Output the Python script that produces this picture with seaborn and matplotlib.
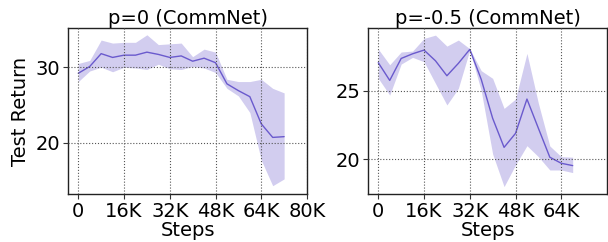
import numpy as np
import pandas as pd
import matplotlib
matplotlib.use("Agg")
import matplotlib.pyplot as plt
import seaborn as sns

# ---- data ----
steps_a = [0, 4000, 8000, 12000, 16000, 20000, 24000, 28000, 32000, 36000,
           40000, 44000, 48000, 52000, 56000, 60000, 64000, 68000, 72000]
mean_a = [29.2, 30.1, 31.8, 31.3, 31.6, 31.6, 32.0, 31.7, 31.3, 31.5,
          30.8, 31.2, 30.6, 27.8, 26.9, 26.1, 22.5, 20.7, 20.8]
upper_a = [30.5, 30.9, 33.6, 33.2, 33.3, 33.3, 34.3, 33.0, 33.1, 33.2,
           31.4, 32.4, 32.0, 28.4, 28.1, 28.1, 28.4, 27.2, 26.6]
lower_a = [28.1, 29.5, 30.0, 29.4, 30.0, 29.9, 29.7, 30.4, 29.8, 29.7,
           30.1, 29.9, 29.3, 27.2, 26.2, 24.0, 17.7, 14.3, 15.2]

steps_b = [0, 4000, 8000, 12000, 16000, 20000, 24000, 28000, 32000, 36000,
           40000, 44000, 48000, 52000, 56000, 60000, 64000, 68000]
mean_b = [27.04, 25.75, 27.35, 27.69, 27.96, 27.18, 26.09, 26.99, 28.01, 25.83,
          22.99, 20.87, 21.89, 24.39, 22.26, 20.15, 19.71, 19.54]
upper_b = [28.03, 26.89, 27.82, 27.89, 28.81, 29.05, 28.25, 28.69, 28.06, 26.46,
           25.90, 23.71, 24.39, 27.72, 24.08, 20.97, 20.19, 20.15]
lower_b = [25.90, 24.68, 26.94, 27.43, 27.11, 25.53, 23.96, 25.17, 27.96, 25.00,
           20.39, 18.01, 19.59, 20.99, 20.19, 19.22, 19.22, 19.03]

titles = ["p=0 (CommNet)", "p=-0.5 (CommNet)"]
xticks_a = [0, 16000, 32000, 48000, 64000, 80000]
xticklabels_a = ["0", "16K", "32K", "48K", "64K", "80K"]
xticks_b = [0, 16000, 32000, 48000, 64000]
xticklabels_b = ["0", "16K", "32K", "48K", "64K"]
yticks_a = [20, 30]
yticks_b = [20, 25]

# ---- plot ----
sns.set_style("white")
plt.rcParams['font.family'] = ['DejaVu Sans']
plt.rcParams['text.color'] = 'black'
plt.rcParams['axes.labelcolor'] = 'black'
plt.rcParams['xtick.color'] = 'black'
plt.rcParams['ytick.color'] = 'black'

FS = 14
line_color = "#6a5acd"
fig = plt.figure(figsize=(6.08, 2.42), dpi=100)
ax1 = fig.add_axes([68/608, 1-194/242, 239/608, 166/242])
ax2 = fig.add_axes([368/608, 1-194/242, 239/608, 166/242])

panels = [
    (ax1, steps_a, mean_a, lower_a, upper_a, titles[0], xticks_a, xticklabels_a, yticks_a, (13.2, 35.2)),
    (ax2, steps_b, mean_b, lower_b, upper_b, titles[1], xticks_b, xticklabels_b, yticks_b, (17.47, 29.57)),
]

for ax, s, m, lo, hi, title, xt, xtl, yt, ylim in panels:
    df = pd.DataFrame({"Steps": s, "Return": m})
    ax.fill_between(s, lo, hi, color=line_color, alpha=0.3, linewidth=0)
    sns.lineplot(data=df, x="Steps", y="Return", ax=ax, color=line_color, linewidth=1.0)
    ax.set_xlim(-3600, 80000)
    ax.set_ylim(*ylim)
    ax.set_xticks(xt)
    ax.set_xticklabels(xtl)
    ax.set_yticks(yt)
    ax.grid(True, linestyle=":", color="#555555", linewidth=0.8)
    ax.set_axisbelow(False)
    ax.tick_params(axis="both", labelsize=FS, direction="out", length=3.5,
                   width=0.8, color="#333333", labelcolor="black",
                   bottom=True, left=True, pad=2)
    for sp in ax.spines.values():
        sp.set_color("#222222")
        sp.set_linewidth(1.0)
    ax.set_title(title, fontsize=FS, pad=3, color="black")
    ax.set_xlabel("Steps", fontsize=FS, labelpad=0, color="black")
    ax.set_ylabel("")

ax1.set_ylabel("Test Return", fontsize=FS, labelpad=4, color="black")

fig.savefig("out.png", dpi=100)
